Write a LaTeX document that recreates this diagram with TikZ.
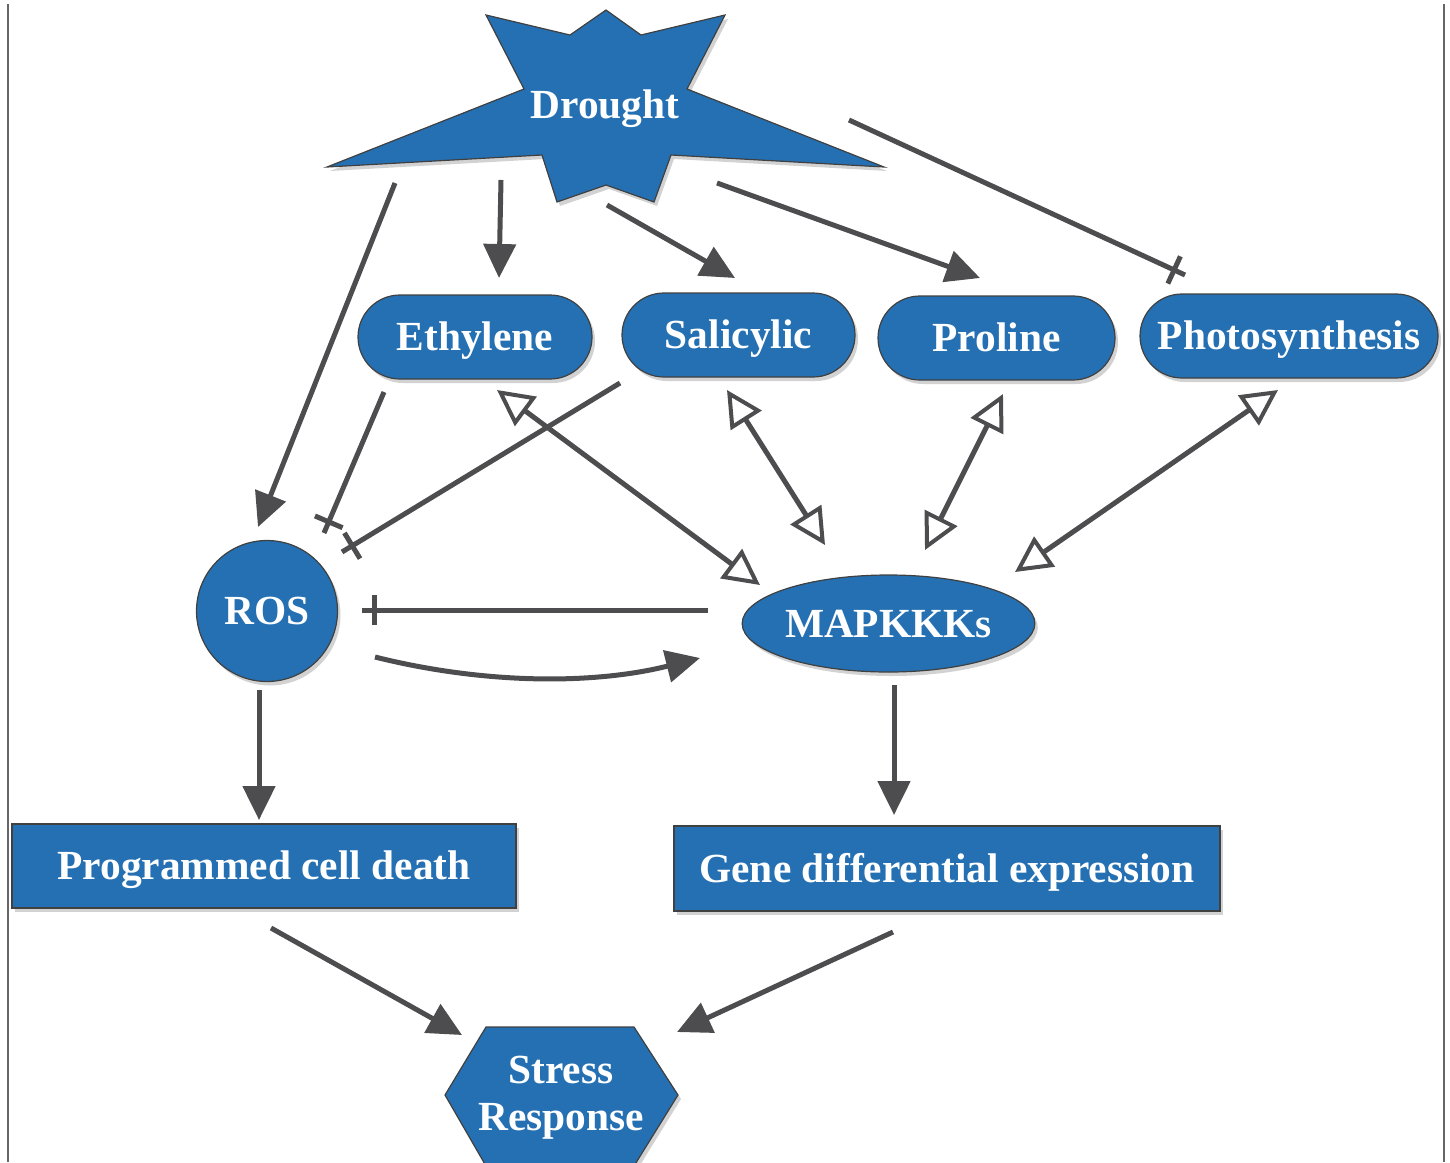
\documentclass[tikz,border=0pt]{standalone}
\usepackage{fontspec}
\setmainfont{Liberation Serif}
\usetikzlibrary{arrows.meta,shadows,shapes.geometric,calc,decorations.markings}
\definecolor{nodeblue}{RGB}{36,112,178}
\definecolor{linegray}{RGB}{77,77,79}
\definecolor{edgegray}{RGB}{64,64,64}
\begin{document}
\begin{tikzpicture}[x=0.5pt,y=-0.5pt,
  dshadow/.style={drop shadow={shadow xshift=1.5pt,shadow yshift=-2pt,fill=black!35,opacity=0.5}},
  txt/.style={text=white,font=\fontsize{20.7}{23.5}\selectfont\bfseries},
  nodebase/.style={fill=nodeblue,draw=edgegray,line width=0.6pt,dshadow,txt,inner sep=0pt,text height=13.6pt,text depth=0pt},
  pill/.style={nodebase,rectangle,rounded corners=21pt,minimum height=42pt},
  box/.style={nodebase,rectangle,minimum height=42pt},
  conn/.style={draw=linegray,line width=2.5pt},
  act/.style={conn,-{Triangle[length=17pt,width=16pt]}},
  dbl/.style={conn,{Triangle[open,length=18pt,width=18pt,line width=2pt]}-{Triangle[open,length=18pt,width=18pt,line width=2pt]}},
  inh/.style={conn,postaction={decorate},decoration={markings,mark=at position -6pt with {\draw[linegray,line width=2.5pt] (0,-7.5pt)--(0,7.5pt);}}},
  border/.style={draw=black!60,line width=1pt}
]
\useasboundingbox (0,0) rectangle (1450,1162);
\clip (0,0) rectangle (1450,1162);
\draw[border] (8,4) -- (8,1162);
\draw[border] (1444,4) -- (1444,1162);

% star
\filldraw[fill=nodeblue,draw=edgegray,line width=0.6pt,dshadow]
  (486,15)--(570,35)--(606,10)--(641,35)--(725,15)--(687,89)--(884,167)--(671,155)
  --(654,202)--(606,185)--(557,202)--(542,155)--(327,167)--(524,89)--cycle;
\node[txt,inner sep=0pt,text height=13.6pt,text depth=0pt] (drought) at (605,105) {Drought};

\node[pill,minimum width=117pt] (eth) at (475,337) {Ethylene};
\node[pill,minimum width=116.5pt] (sal) at (738.5,335) {Salicylic};
\node[pill,minimum width=118.5pt] (pro) at (996.5,338) {Proline};
\node[pill,minimum width=149pt] (pho) at (1289,336) {Photosynthesis};
\node[nodebase,circle,minimum size=70.5pt] (ros) at (267,611) {ROS};
\node[nodebase,ellipse,minimum width=141.5pt,minimum height=48.5pt] (map) at (888.5,623.5) {MAPKKKs};
\node[box,minimum width=252pt] (pcd) at (264,866) {Programmed cell death};
\node[box,minimum width=273pt,minimum height=42.5pt] (gene) at (947,868.5) {Gene differential expression};

% hexagon
\filldraw[fill=nodeblue,draw=edgegray,line width=0.6pt,dshadow]
  (445,1095)--(486,1027)--(634,1027)--(678,1095)--(634,1166)--(486,1166)--cycle;
\node[txt,align=center] (stress) at (561,1098) {Stress\\Response};

% connectors from Drought
\draw[act] ($(drought)+(-210,78)$) -- ($(ros)+(-9,-84)$);
\draw[act] ($(drought)+(-104,75)$) -- ($(eth)+(24,-59)$);
\draw[act] ($(drought)+(2,100)$) -- ($(sal)+(-3.5,-57)$);
\draw[act] ($(drought)+(112,78)$) -- ($(pro)+(-16.5,-60)$);
\draw[inh] ($(drought)+(244,15)$) -- ($(pho)+(-104,-61)$);

% inhibition of ROS
\draw[inh] ($(eth)+(-91,55)$) -- ($(ros)+(57,-78)$);
\draw[inh] ($(sal)+(-118.5,48)$) -- ($(ros)+(75,-59)$);
\draw[inh] ($(map)+(-180.5,-13.5)$) -- ($(ros)+(95,-1)$);

% double arrows with MAPKKKs
\draw[dbl] ($(eth)+(22,53)$) -- ($(map)+(-128.5,-38.5)$);
\draw[dbl] ($(sal)+(-11.5,55)$) -- ($(map)+(-63.5,-78.5)$);
\draw[dbl] ($(pro)+(6.5,56)$) -- ($(map)+(36.5,-73.5)$);
\draw[dbl] ($(pho)+(-11,54)$) -- ($(map)+(126.5,-51.5)$);

% ROS -> MAPKKKs curved
\draw[act] ($(ros)+(108,46)$) .. controls ($(ros)+(216,73)$) and ($(ros)+(325,74)$) .. ($(map)+(-188.5,34.5)$);

% downward
\draw[act] ($(ros)+(-8,79)$) -- ($(pcd)+(-5,-46)$);
\draw[act] ($(map)+(5.5,61.5)$) -- ($(gene)+(-53,-53.5)$);
\draw[act] ($(pcd)+(7,62)$) -- ($(stress)+(-99,-63)$);
\draw[act] ($(gene)+(-54,63.5)$) -- ($(stress)+(116,-66)$);
\end{tikzpicture}
\end{document}
